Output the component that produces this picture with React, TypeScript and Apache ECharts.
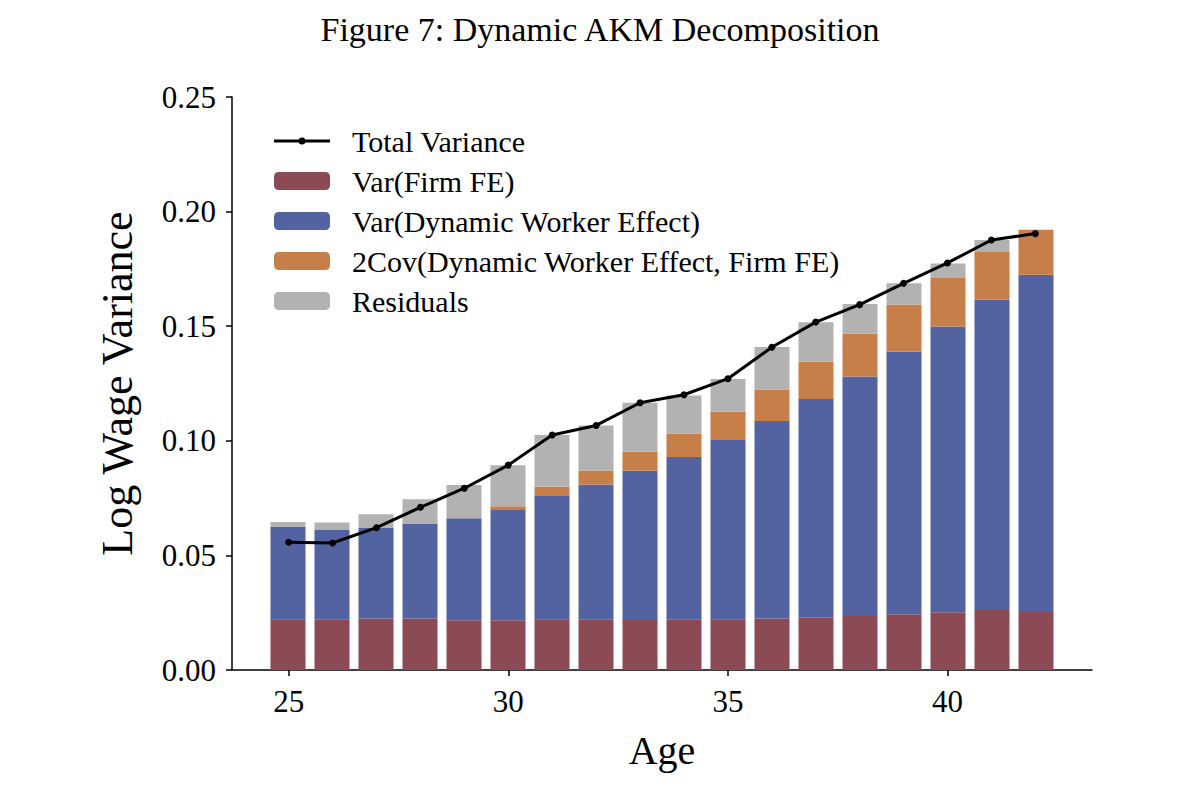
import * as echarts from "echarts";
import { useEffect, useRef } from "react";

const ages = [25, 26, 27, 28, 29, 30, 31, 32, 33, 34, 35, 36, 37, 38, 39, 40, 41, 42];
const varFirm = [0.0221, 0.0221, 0.0225, 0.0225, 0.0217, 0.0217, 0.0221, 0.0221, 0.0222, 0.0221, 0.0221, 0.0225, 0.0228, 0.0236, 0.0243, 0.0252, 0.0262, 0.0257];
const varWorker = [0.0404, 0.039, 0.0395, 0.0412, 0.0445, 0.0481, 0.0538, 0.0588, 0.0647, 0.0708, 0.0782, 0.0861, 0.0954, 0.1044, 0.1147, 0.1247, 0.1354, 0.1468];
const covWorkerFirm = [0, 0, 0, 0, 0, 0.0016, 0.0041, 0.0061, 0.0083, 0.0102, 0.0124, 0.0138, 0.0163, 0.0187, 0.0205, 0.0211, 0.0208, 0.0196];
const residuals = [0.0021, 0.0032, 0.0059, 0.0108, 0.0145, 0.0179, 0.0225, 0.0197, 0.0214, 0.0167, 0.0143, 0.0185, 0.0172, 0.013, 0.0092, 0.0064, 0.0052, 0];
const totalVariance = [0.0557, 0.0554, 0.0621, 0.071, 0.0793, 0.0894, 0.1025, 0.1067, 0.1166, 0.1201, 0.1271, 0.1408, 0.1518, 0.1594, 0.1687, 0.1776, 0.1876, 0.1904];
const xTicks = [25, 30, 35, 40];

const font = "'Liberation Serif', 'DejaVu Serif', serif";

// legend marker for the line: thin bar with a small solid dot in the middle
const lineIcon = "path://M0 2H25V5H0Z M31 2H56V5H31Z M24.5 3.5A3.5 3.5 0 1 1 31.5 3.5A3.5 3.5 0 1 1 24.5 3.5Z";

// bars live on a hidden category axis whose bands line up with the value axis (1 year = 44px)
const barSeries = (name: string, values: number[], color: string) => ({
	name,
	type: "bar" as const,
	stack: "decomp",
	xAxisIndex: 1,
	yAxisIndex: 1,
	barWidth: 35,
	itemStyle: { color },
	data: values
});

const option: echarts.EChartsOption = {
	animation: false,
	backgroundColor: "#ffffff",
	textStyle: { fontFamily: font, color: "#000" },
	title: {
		text: "Figure 7: Dynamic AKM Decomposition",
		left: "center",
		top: 7,
		textStyle: { fontFamily: font, fontSize: 34, fontWeight: "normal", color: "#000" }
	},
	grid: [
		{ left: 232, right: 108, top: 97, bottom: 126 },
		{ left: 266, width: 792, top: 97, bottom: 126 }
	],
	legend: {
		orient: "vertical",
		left: 269,
		top: 121,
		itemWidth: 56,
		itemHeight: 18,
		itemGap: 10,
		symbolKeepAspect: true,
		textStyle: { fontFamily: font, fontSize: 30, lineHeight: 30, color: "#000", padding: [0, 0, 0, 17] },
		data: [
			{ name: "Total Variance", icon: lineIcon, itemStyle: { color: "#000", borderWidth: 0 } },
			"Var(Firm FE)",
			"Var(Dynamic Worker Effect)",
			"2Cov(Dynamic Worker Effect, Firm FE)",
			"Residuals"
		]
	},
	xAxis: [
		{
			type: "value",
			gridIndex: 0,
			min: 23.71,
			max: 43.29,
			name: "Age",
			nameLocation: "middle",
			nameGap: 60,
			nameTextStyle: { fontFamily: font, fontSize: 40, color: "#000" },
			splitLine: { show: false },
			axisLine: { lineStyle: { color: "#000", width: 1.5 } },
			axisTick: { length: 6, lineStyle: { color: "#000", width: 1.5 }, customValues: xTicks },
			axisLabel: { fontFamily: font, fontSize: 31, color: "#000", margin: 16, customValues: xTicks }
		},
		{
			type: "category",
			gridIndex: 1,
			data: ages.map(String),
			show: false
		}
	],
	yAxis: [
		{
			type: "value",
			gridIndex: 0,
			min: 0,
			max: 0.25,
			interval: 0.05,
			name: "Log Wage Variance",
			nameLocation: "middle",
			nameGap: 93,
			nameTextStyle: { fontFamily: font, fontSize: 44, color: "#000" },
			splitLine: { show: false },
			axisLine: { show: true, lineStyle: { color: "#000", width: 1.5 } },
			axisTick: { show: true, length: 6, lineStyle: { color: "#000", width: 1.5 } },
			axisLabel: { fontFamily: font, fontSize: 31, color: "#000", margin: 16, formatter: (v: number) => v.toFixed(2) }
		},
		{
			type: "value",
			gridIndex: 1,
			min: 0,
			max: 0.25,
			show: false
		}
	],
	series: [
		barSeries("Var(Firm FE)", varFirm, "#8c4a54"),
		barSeries("Var(Dynamic Worker Effect)", varWorker, "#5363a2"),
		barSeries("2Cov(Dynamic Worker Effect, Firm FE)", covWorkerFirm, "#c77f49"),
		barSeries("Residuals", residuals, "#b2b2b2"),
		{
			name: "Total Variance",
			type: "line",
			xAxisIndex: 0,
			yAxisIndex: 0,
			z: 5,
			symbol: "circle",
			symbolSize: 7,
			lineStyle: { color: "#000", width: 3 },
			itemStyle: { color: "#000" },
			data: ages.map((a, i) => [a, totalVariance[i]])
		}
	]
};

const App = () => {
	const chartRef = useRef<HTMLDivElement>(null);

	useEffect(() => {
		const chart = echarts.init(chartRef.current!, undefined, { renderer: "svg" });
		chart.setOption(option);
		return () => {
			chart.dispose();
		};
	}, []);

	return <div ref={chartRef} style={{ position: "fixed", left: 0, top: 0, width: 1200, height: 796 }} />;
};

export default App;
